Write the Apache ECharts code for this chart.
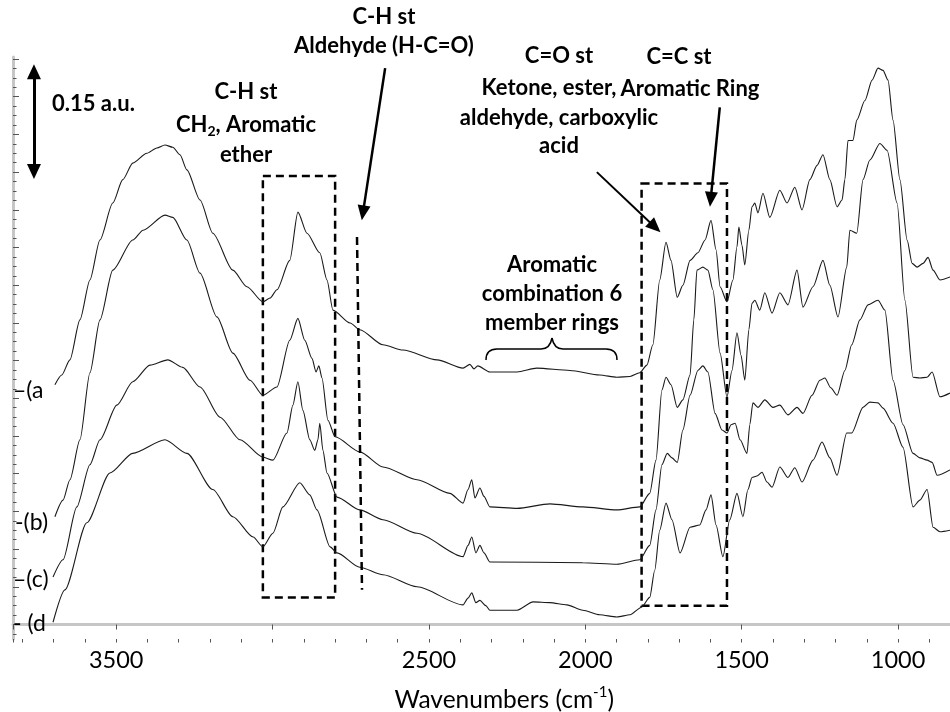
<!DOCTYPE html>
<html>
<head>
<meta charset="utf-8">
<script src="https://cdn.jsdelivr.net/npm/echarts/dist/echarts.min.js"></script>
<style>
  html, body { margin: 0; padding: 0; background: #fff; }
  #chart { width: 950px; height: 712px; }
</style>
</head>
<body>
<div id="chart"></div>
<script>
// FTIR spectra (absorbance, offset for clarity) vs wavenumber in cm-1
const tickLabels = [3500, 2500, 2000, 1500, 1000];

const curveA = [[3696,0.318],[3674,0.331],[3648,0.351],[3616,0.404],[3584,0.457],[3552,0.510],[3511,0.559],[3479,0.590],[3447,0.612],[3402,0.625],[3370,0.632],[3344,0.636],[3319,0.633],[3296,0.623],[3274,0.603],[3232,0.563],[3191,0.519],[3127,0.470],[3082,0.448],[3031,0.428],[3008,0.433],[2986,0.444],[2945,0.483],[2919,0.547],[2890,0.519],[2849,0.493],[2826,0.457],[2807,0.417],[2752,0.400],[2721,0.391],[2647,0.371],[2583,0.364],[2474,0.351],[2391,0.340],[2369,0.345],[2356,0.339],[2344,0.343],[2305,0.335],[2218,0.335],[2155,0.340],[2049,0.337],[1954,0.331],[1899,0.328],[1857,0.329],[1826,0.334],[1803,0.344],[1784,0.371],[1762,0.457],[1742,0.507],[1726,0.483],[1706,0.434],[1688,0.450],[1665,0.483],[1640,0.493],[1617,0.510],[1598,0.536],[1582,0.497],[1569,0.448],[1547,0.428],[1528,0.457],[1515,0.501],[1509,0.527],[1499,0.503],[1490,0.477],[1477,0.523],[1467,0.554],[1458,0.559],[1448,0.546],[1432,0.572],[1410,0.540],[1378,0.576],[1355,0.559],[1330,0.580],[1307,0.550],[1282,0.590],[1259,0.609],[1240,0.623],[1218,0.590],[1195,0.554],[1179,0.563],[1170,0.590],[1160,0.642],[1144,0.642],[1132,0.669],[1106,0.695],[1083,0.722],[1064,0.738],[1048,0.735],[1032,0.722],[1016,0.669],[994,0.590],[971,0.510],[955,0.479],[939,0.474],[920,0.479],[904,0.487],[888,0.470],[866,0.457],[834,0.461]];

const curveB = [[3696,0.143],[3670,0.165],[3648,0.192],[3616,0.245],[3584,0.334],[3552,0.404],[3511,0.470],[3447,0.510],[3414,0.523],[3344,0.543],[3319,0.540],[3274,0.510],[3232,0.466],[3178,0.408],[3127,0.360],[3072,0.324],[3031,0.304],[2986,0.315],[2945,0.377],[2919,0.406],[2897,0.377],[2874,0.353],[2861,0.335],[2852,0.343],[2842,0.327],[2823,0.271],[2800,0.249],[2721,0.229],[2647,0.209],[2538,0.192],[2433,0.174],[2391,0.161],[2375,0.179],[2363,0.192],[2353,0.168],[2337,0.181],[2324,0.170],[2305,0.156],[2218,0.154],[2113,0.160],[2008,0.156],[1899,0.152],[1826,0.156],[1794,0.174],[1774,0.218],[1755,0.311],[1742,0.328],[1726,0.318],[1706,0.288],[1688,0.298],[1665,0.331],[1653,0.404],[1643,0.470],[1624,0.474],[1608,0.470],[1592,0.444],[1569,0.360],[1547,0.302],[1531,0.337],[1515,0.387],[1502,0.357],[1490,0.324],[1477,0.391],[1467,0.426],[1458,0.430],[1442,0.417],[1426,0.440],[1403,0.413],[1378,0.440],[1352,0.424],[1323,0.470],[1304,0.421],[1272,0.448],[1240,0.483],[1218,0.450],[1192,0.408],[1164,0.474],[1154,0.523],[1132,0.519],[1112,0.590],[1090,0.616],[1058,0.638],[1035,0.629],[1003,0.559],[978,0.430],[952,0.328],[930,0.327],[907,0.328],[891,0.335],[866,0.302],[834,0.307]];

const curveC = [[3702,0.063],[3670,0.086],[3626,0.156],[3584,0.212],[3552,0.245],[3498,0.291],[3447,0.322],[3392,0.344],[3335,0.351],[3287,0.341],[3232,0.315],[3168,0.275],[3104,0.245],[3031,0.222],[2999,0.218],[2954,0.254],[2935,0.291],[2919,0.322],[2903,0.284],[2881,0.245],[2865,0.231],[2855,0.245],[2849,0.267],[2839,0.231],[2826,0.201],[2794,0.169],[2721,0.152],[2647,0.139],[2538,0.121],[2391,0.090],[2375,0.105],[2363,0.116],[2350,0.095],[2337,0.105],[2324,0.095],[2305,0.083],[2008,0.082],[1899,0.080],[1826,0.086],[1794,0.105],[1774,0.152],[1755,0.212],[1738,0.227],[1723,0.221],[1706,0.215],[1688,0.258],[1665,0.304],[1640,0.337],[1624,0.343],[1608,0.335],[1585,0.280],[1563,0.258],[1547,0.254],[1534,0.265],[1521,0.267],[1505,0.245],[1483,0.227],[1474,0.265],[1464,0.294],[1448,0.288],[1426,0.298],[1400,0.288],[1378,0.291],[1352,0.278],[1323,0.288],[1304,0.280],[1275,0.304],[1250,0.324],[1234,0.327],[1215,0.314],[1195,0.304],[1170,0.337],[1148,0.371],[1122,0.404],[1096,0.424],[1064,0.430],[1042,0.417],[1016,0.324],[984,0.265],[952,0.227],[930,0.221],[907,0.218],[891,0.215],[875,0.198],[834,0.205]];

const curveD = [[3702,0.003],[3664,0.046],[3594,0.135],[3520,0.201],[3447,0.227],[3344,0.245],[3274,0.227],[3191,0.179],[3127,0.143],[3062,0.116],[3031,0.103],[2999,0.121],[2967,0.156],[2913,0.188],[2881,0.172],[2858,0.152],[2816,0.103],[2794,0.095],[2721,0.076],[2647,0.066],[2538,0.050],[2391,0.026],[2375,0.035],[2363,0.042],[2350,0.029],[2337,0.032],[2318,0.025],[2305,0.019],[2218,0.019],[2167,0.030],[2113,0.029],[2059,0.026],[2008,0.019],[1954,0.013],[1899,0.010],[1857,0.013],[1820,0.023],[1794,0.036],[1778,0.072],[1762,0.125],[1742,0.161],[1723,0.139],[1697,0.095],[1665,0.129],[1634,0.132],[1614,0.152],[1598,0.172],[1582,0.132],[1560,0.090],[1538,0.139],[1515,0.174],[1496,0.143],[1480,0.179],[1467,0.195],[1451,0.197],[1435,0.202],[1419,0.189],[1403,0.182],[1378,0.209],[1352,0.195],[1330,0.208],[1307,0.189],[1272,0.218],[1243,0.242],[1218,0.221],[1195,0.198],[1164,0.254],[1148,0.254],[1112,0.288],[1090,0.295],[1064,0.294],[1048,0.287],[1016,0.267],[984,0.235],[952,0.156],[930,0.165],[907,0.179],[888,0.129],[866,0.123],[834,0.125]];

// Band regions (wavenumber range, absorbance range) and arrows, in axis units
const chBox = [[3031, 0.595], [2800, 0.036]];
const coBox = [[1820, 0.585], [1547, 0.025]];
const aldehydeLine = [[2730, 0.514], [2714, 0.046]];
const aldehydeArrow = [[2640, 0.738], [2711, 0.546]];
const carbonylArrow = [[1963, 0.600], [1777, 0.527]];
const aromaticArrow = [[1570, 0.686], [1599, 0.564]];
const scaleBar = [[3763, 0.733], [3763, 0.601]];

// Axis ranges: the x scale starts at 500 so that ticks fall on round wavenumbers;
// the frame runs past the right edge of the page, which ends near 834 cm-1
const X_MIN = 500, X_MAX = 3830;
const Y_MIN = -0.0192, Y_MAX = 0.7527;

const FONT = 'Lato, "Open Sans", sans-serif';
const INK = '#000';
const AXIS_GREY = '#c6c6c6';
const TICK_GREY = '#555';
const curveStyle = { color: '#1a1a1a', width: 1.1 };

// plot frame shared by the three grids (the extra grids only carry y ticks)
const PLOT_LEFT = 13, PLOT_WIDTH = 1041.4;
const frame = (top, bottom) => ({
  left: PLOT_LEFT, width: PLOT_WIDTH, top, bottom,
  containLabel: false, outerBoundsMode: 'none'
});

function spectrum(name, data) {
  return {
    name, type: 'line', data, xAxisIndex: 0, yAxisIndex: 0,
    showSymbol: false, symbol: 'none', smooth: 0.25, smoothMonotone: 'x',
    lineStyle: curveStyle, silent: true, z: 3
  };
}

function arrow(pts, width, both, size) {
  const s = size || [13, 15];
  return [
    { coord: pts[0], symbol: both ? 'triangle' : 'none', symbolSize: s,
      lineStyle: { color: INK, width, type: 'solid' } },
    { coord: pts[1], symbol: 'triangle', symbolSize: s,
      lineStyle: { color: INK, width, type: 'solid' } }
  ];
}

const seriesA = spectrum('(a)', curveA);
seriesA.markArea = {
  silent: true,
  itemStyle: { color: 'rgba(0,0,0,0)', borderColor: INK, borderWidth: 2.5, borderType: [8, 5] },
  data: [
    [{ coord: chBox[0] }, { coord: chBox[1] }],
    [{ coord: coBox[0] }, { coord: coBox[1] }]
  ]
};
seriesA.markLine = {
  silent: true, animation: false,
  label: { show: false },
  data: [
    [
      { coord: aldehydeLine[0], symbol: 'none', lineStyle: { color: INK, width: 2.5, type: [8, 5] } },
      { coord: aldehydeLine[1], symbol: 'none', lineStyle: { color: INK, width: 2.5, type: [8, 5] } }
    ],
    arrow(aldehydeArrow, 2.5, false),
    arrow(carbonylArrow, 2, false),
    arrow(aromaticArrow, 2.5, false),
    arrow(scaleBar, 3, true, [14, 15])
  ]
};

const boldFont = 'bold 22px ' + FONT;
function note(text, x, y, align) {
  return {
    type: 'text', silent: true, z: 10,
    style: { text, x, y, font: boldFont, fill: INK, align: align || 'center', verticalAlign: 'middle' }
  };
}
function curveTag(text, x, y) {
  return {
    type: 'text', silent: true, z: 10,
    style: { text, x, y, font: '23px ' + FONT, fill: INK, align: 'left', verticalAlign: 'middle' }
  };
}
function braceSeg(x1, y1, cx, cy, x2, y2) {
  return {
    type: 'bezierCurve', silent: true, z: 10,
    shape: { x1, y1, cpx1: cx, cpy1: cy, x2, y2 },
    style: { stroke: INK, lineWidth: 1.5, fill: null }
  };
}
function braceLine(x1, y1, x2, y2) {
  return {
    type: 'line', silent: true, z: 10,
    shape: { x1, y1, x2, y2 },
    style: { stroke: INK, lineWidth: 1.5 }
  };
}

const hiddenX = gridIndex => ({ type: 'value', gridIndex, min: X_MIN, max: X_MAX, inverse: true, show: false });

const option = {
  animation: false,
  backgroundColor: '#fff',
  grid: [
    frame(57, 73),     // spectra, x axis, y axis line
    frame(59, 87.5),   // major y ticks, 0 .. 0.75
    frame(59, 78.1)    // minor y ticks, -0.0125 .. 0.75
  ],
  xAxis: [
    {
      type: 'value', gridIndex: 0, inverse: true, min: X_MIN, max: X_MAX, interval: 500, position: 'bottom',
      axisLine: { show: true, lineStyle: { color: AXIS_GREY, width: 3 } },
      axisTick: { show: true, length: 5, lineStyle: { color: TICK_GREY, width: 1 } },
      axisLabel: {
        margin: 9, color: INK, fontFamily: FONT, fontSize: 23.5,
        formatter: v => (tickLabels.indexOf(v) >= 0 ? String(v) : '')
      },
      splitLine: { show: false },
      name: '{t|Wavenumbers (cm}{s|-1}{t|)}',
      nameLocation: 'middle', nameGap: 46,
      nameTextStyle: {
        padding: [0, 59, 0, 0],
        rich: {
          t: { fontFamily: FONT, fontSize: 24.5, color: INK, lineHeight: 30 },
          s: { fontFamily: FONT, fontSize: 15, color: INK, lineHeight: 15, verticalAlign: 'top' }
        }
      }
    },
    {
      type: 'value', gridIndex: 0, inverse: true, min: X_MIN, max: X_MAX, interval: 100, position: 'bottom',
      axisLine: { show: false },
      axisTick: { show: true, length: 3.5, lineStyle: { color: TICK_GREY, width: 1 } },
      axisLabel: { show: false }, splitLine: { show: false }
    },
    hiddenX(1),
    hiddenX(2)
  ],
  yAxis: [
    {
      type: 'value', gridIndex: 0, min: Y_MIN, max: Y_MAX, position: 'left',
      axisLine: { show: true, lineStyle: { color: AXIS_GREY, width: 3 } },
      axisTick: { show: false }, axisLabel: { show: false }, splitLine: { show: false }
    },
    {
      type: 'value', gridIndex: 1, min: 0, max: 0.75, interval: 0.05, position: 'left',
      axisLine: { show: false },
      axisTick: { show: true, inside: true, length: 6, lineStyle: { color: TICK_GREY, width: 1 } },
      axisLabel: { show: false }, splitLine: { show: false }
    },
    {
      type: 'value', gridIndex: 2, min: -0.0125, max: 0.75, interval: 0.0125, position: 'left',
      axisLine: { show: false },
      axisTick: { show: true, inside: true, length: 3.5, lineStyle: { color: TICK_GREY, width: 1 } },
      axisLabel: { show: false }, splitLine: { show: false }
    }
  ],
  series: [
    seriesA,
    spectrum('(b)', curveB),
    spectrum('(c)', curveC),
    spectrum('(d)', curveD)
  ],
  graphic: [
    note('0.15 a.u.', 52, 104, 'left'),
    note('C-H st', 246, 92),
    {
      type: 'text', silent: true, z: 10,
      style: {
        text: '{b|CH}{s|2}{b|, Aromatic}', x: 246, y: 125, align: 'center', verticalAlign: 'middle',
        rich: {
          b: { font: boldFont, fill: INK, lineHeight: 26 },
          s: { font: 'bold 14px ' + FONT, fill: INK, lineHeight: 16, verticalAlign: 'bottom' }
        }
      }
    },
    note('ether', 246, 155),
    note('C-H st', 384, 17),
    note('Aldehyde (H-C=O)', 384, 46),
    note('C=O st', 559, 56),
    note('Ketone, ester,', 549, 88),
    note('aldehyde, carboxylic', 559, 118),
    note('acid', 559, 146),
    note('C=C st', 679, 57),
    note('Aromatic Ring', 690, 89),
    note('Aromatic', 552, 265),
    note('combination 6', 552, 294),
    note('member rings', 552, 323),
    braceSeg(486, 360, 486, 349, 497, 349),
    braceLine(497, 349, 541, 349),
    braceSeg(541, 349, 550, 349, 552, 338),
    braceSeg(552, 338, 554, 349, 563, 349),
    braceLine(563, 349, 606, 349),
    braceSeg(606, 349, 617, 349, 617, 360),
    curveTag('\u2013(a', 13, 391),
    curveTag('-(b)', 15, 523),
    curveTag('\u2013(c)', 13, 580),
    curveTag('- (d', 13, 624)
  ]
};

const chart = echarts.init(document.getElementById('chart'), null, { renderer: 'canvas' });
chart.setOption(option);
</script>
</body>
</html>
